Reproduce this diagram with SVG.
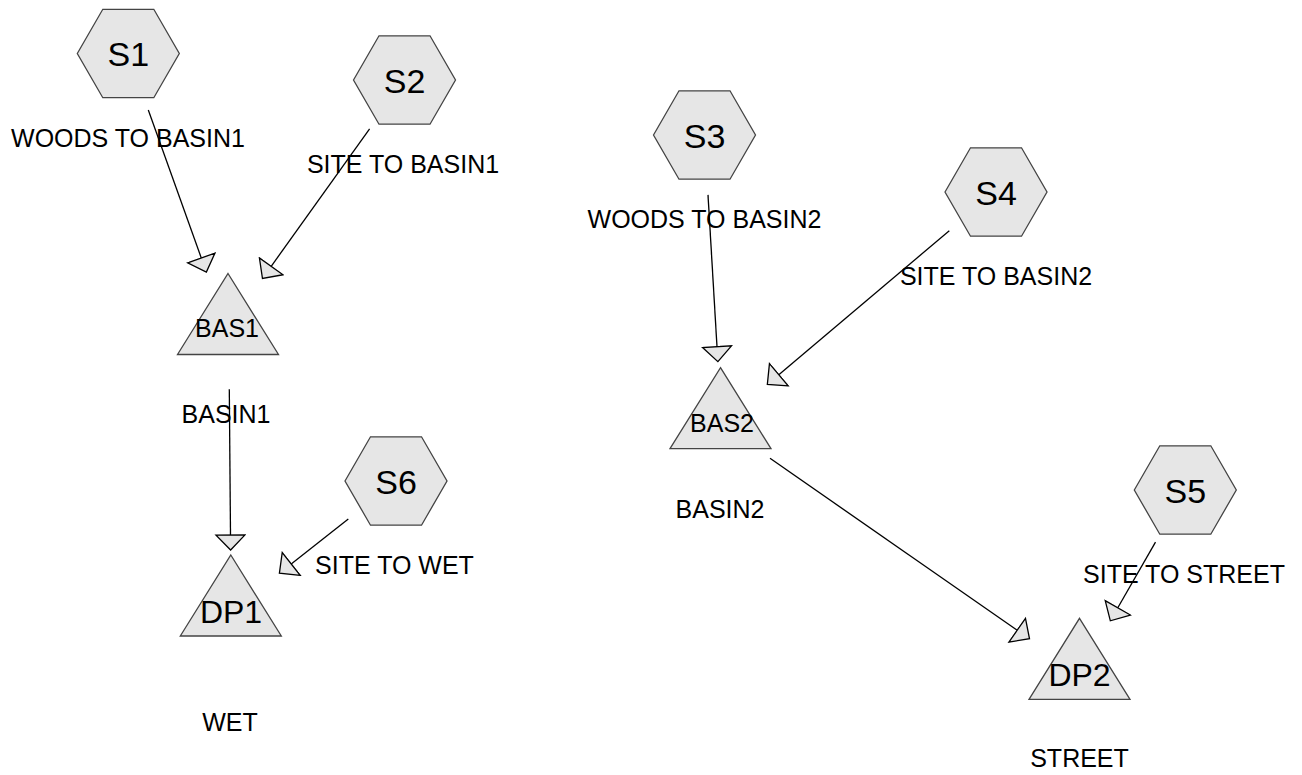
<svg xmlns="http://www.w3.org/2000/svg" xmlns:xlink="http://www.w3.org/1999/xlink" width="1302" height="775" viewBox="0 0 1302 775">
  <style>
    .shape { fill: #e6e6e6; stroke: #444444; stroke-width: 1.3; }
    .edge { fill: none; stroke: #000000; stroke-width: 1.3; marker-end: url(#arrow); }
    text { font-family: "Liberation Sans", Arial, sans-serif; fill: #000000; text-anchor: middle; }
    .sub { font-size: 34px; }
    .pond { font-size: 32px; }
    .basin { font-size: 25px; }
    .label { font-size: 25px; }
  </style>
  <defs>
    <!-- subcatchment hexagon, centred on origin -->
    <polygon id="hex" points="-51,0 -25.5,-44.2 25.5,-44.2 51,0 25.5,44.2 -25.5,44.2"/>
    <!-- basin / design point triangle, apex at origin -->
    <polygon id="tri" points="0,0 50.5,81 -50.5,81"/>
    <marker id="arrow" markerUnits="userSpaceOnUse" viewBox="-1 -16 18 32" markerWidth="18" markerHeight="32" refX="0" refY="0" orient="auto">
      <path d="M0,-14.5 L15,0 L0,14.5 Z" fill="#e6e6e6" stroke="#000000" stroke-width="1.3"/>
    </marker>
  </defs>

  <g id="connectors">
    <line class="edge" x1="148.3" y1="110" x2="201.3" y2="258"/>
    <line class="edge" x1="369.6" y1="128.8" x2="271.2" y2="266.3"/>
    <line class="edge" x1="708" y1="194.9" x2="717" y2="346.7"/>
    <line class="edge" x1="949.3" y1="230.7" x2="778.8" y2="374.7"/>
    <line class="edge" x1="229.3" y1="389.3" x2="230.5" y2="535"/>
    <line class="edge" x1="348.3" y1="519" x2="291.2" y2="563.9"/>
    <line class="edge" x1="770" y1="458.3" x2="1017.2" y2="630.2"/>
    <line class="edge" x1="1155.5" y1="542.1" x2="1117.8" y2="607.8"/>
  </g>

  <g id="S1">
    <use xlink:href="#hex" class="shape" x="128.3" y="53.5"/>
    <text class="sub" x="128.3" y="66">S1</text>
    <text class="label" x="128" y="146.7">WOODS TO BASIN1</text>
  </g>
  <g id="S2">
    <use xlink:href="#hex" class="shape" x="404.5" y="80"/>
    <text class="sub" x="404.5" y="92.5">S2</text>
    <text class="label" x="403" y="173">SITE TO BASIN1</text>
  </g>
  <g id="S3">
    <use xlink:href="#hex" class="shape" x="704.5" y="135"/>
    <text class="sub" x="704.5" y="147.5">S3</text>
    <text class="label" x="704.5" y="228">WOODS TO BASIN2</text>
  </g>
  <g id="S4">
    <use xlink:href="#hex" class="shape" x="996" y="192"/>
    <text class="sub" x="996" y="204.5">S4</text>
    <text class="label" x="996" y="284.5">SITE TO BASIN2</text>
  </g>
  <g id="S5">
    <use xlink:href="#hex" class="shape" x="1185.3" y="490"/>
    <text class="sub" x="1185.3" y="502.5">S5</text>
    <text class="label" x="1184" y="583">SITE TO STREET</text>
  </g>
  <g id="S6">
    <use xlink:href="#hex" class="shape" x="396" y="481"/>
    <text class="sub" x="396" y="493.5">S6</text>
    <text class="label" x="394.5" y="573.5">SITE TO WET</text>
  </g>

  <g id="BAS1">
    <use xlink:href="#tri" class="shape" x="228" y="273.5"/>
    <text class="basin" x="227" y="337.3">BAS1</text>
    <text class="label" x="226" y="422.7">BASIN1</text>
  </g>
  <g id="BAS2">
    <use xlink:href="#tri" class="shape" x="720.5" y="367.7"/>
    <text class="basin" x="722" y="432.3">BAS2</text>
    <text class="label" x="720" y="517.5">BASIN2</text>
  </g>
  <g id="DP1">
    <use xlink:href="#tri" class="shape" x="230.8" y="555"/>
    <text class="pond" x="231" y="622.7">DP1</text>
    <text class="label" x="230" y="731">WET</text>
  </g>
  <g id="DP2">
    <use xlink:href="#tri" class="shape" x="1079.5" y="618.3"/>
    <text class="pond" x="1079.5" y="686">DP2</text>
    <text class="label" x="1079.5" y="766.7">STREET</text>
  </g>
</svg>
